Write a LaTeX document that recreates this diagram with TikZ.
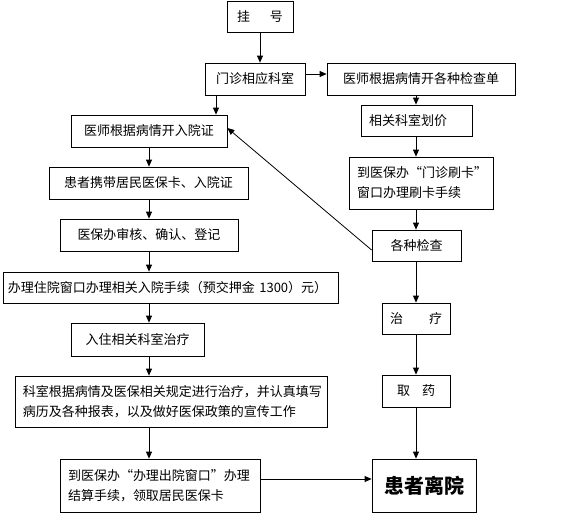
\documentclass[tikz,border=0pt]{standalone}
\usepackage{fontspec}
\setmainfont{Noto Sans CJK SC}
\usetikzlibrary{arrows.meta}

\begin{document}
\begin{tikzpicture}[x=1pt,y=-1pt,
  box/.style={draw,line width=0.8pt,inner xsep=8pt,inner ysep=2pt,font=\fontsize{13}{20}\selectfont},
  arr/.style={-{Triangle[length=7pt,width=6pt]},line width=0.8pt}]
  \useasboundingbox (0,0) rectangle (563,514);
  \node[box,minimum width=66,minimum height=31] (gh) at (260,16.5) {挂\hspace{20pt}号};
  \node[box,minimum width=100,minimum height=32] (mz) at (255,79) {门诊相应科室};
  \node[box,minimum width=188,minimum height=32] (jcd) at (421,79) {医师根据病情开各种检查单};
  \node[box,minimum width=111,minimum height=31,text width=95,align=left] (hj) at (416.5,120.5) {相关科室划价};
  \node[box,minimum width=144,minimum height=52,text width=128,align=left] (sk) at (421,183) {到医保办“门诊刷卡”\\窗口办理刷卡手续};
  \node[box,minimum width=89,minimum height=31] (gz) at (416.5,245.5) {各种检查};
  \node[box,minimum width=68,minimum height=31] (zl) at (416,318.5) {治\hspace{26pt}疗};
  \node[box,minimum width=68,minimum height=32] (qy) at (416,391) {取\hspace{12pt}药};
  \node[box,minimum width=104,minimum height=53,font=\fontsize{20}{24}\selectfont\bfseries] (lk) at (424,485.5) {患者离院};
  \node[box,minimum width=156,minimum height=32] (ry) at (149,131) {医师根据病情开入院证};
  \node[box,minimum width=199,minimum height=32] (xd) at (148.5,183) {患者携带居民医保卡、入院证};
  \node[box,minimum width=178,minimum height=32] (sh) at (149,235) {医保办审核、确认、登记};
  \node[box,minimum width=335,minimum height=31,inner xsep=5pt,text width=325,align=left] (bl) at (170.5,287.5) {办理住院窗口办理相关入院手续（预交押金~1300）元）};
  \node[box,minimum width=133,minimum height=33] (rz) at (137.5,339.5) {入住相关科室治疗};
  \node[box,minimum width=312,minimum height=51,text width=296,align=left] (ks) at (171,401.5) {科室根据病情及医保相关规定进行治疗，并认真填写\\病历及各种报表，以及做好医保政策的宣传工作};
  \node[box,minimum width=200,minimum height=53,text width=184,align=left] (cy) at (160,485.5) {到医保办“办理出院窗口”办理\\结算手续，领取居民医保卡};
  \coordinate (lx) at (149,0);
  \coordinate (rx) at (416,0);

  \draw[arr] (gh.south) -- (gh.south |- mz.north);
  \draw[arr] ([yshift=5pt]mz.east) -- ([yshift=5pt]mz.east -| jcd.west);
  \draw[arr] ([xshift=-39pt]mz.south) -- ([xshift=-39pt]mz.south |- ry.north);
  \draw[arr] (rx |- jcd.south) -- (rx |- hj.north);
  \draw[arr] (rx |- hj.south) -- (rx |- sk.north);
  \draw[arr] (rx |- sk.south) -- (rx |- gz.north);
  \draw[arr] (rx |- gz.south) -- (rx |- zl.north);
  \draw[arr] (rx |- zl.south) -- (rx |- qy.north);
  \draw[arr] (rx |- qy.south) -- (rx |- lk.north);
  \draw[arr] ([yshift=-4.5pt]gz.west) -- ([yshift=3pt]ry.east);
  \draw[arr] (lx |- ry.south) -- (lx |- xd.north);
  \draw[arr] (lx |- xd.south) -- (lx |- sh.north);
  \draw[arr] (lx |- sh.south) -- (lx |- bl.north);
  \draw[arr] (lx |- bl.south) -- (lx |- rz.north);
  \draw[arr] (lx |- rz.south) -- (lx |- ks.north);
  \draw[arr] (lx |- ks.south) -- (lx |- cy.north);
  \draw[arr] ([yshift=6.5pt]cy.east) -- ([yshift=6.5pt]cy.east -| lk.west);
\end{tikzpicture}
\end{document}
